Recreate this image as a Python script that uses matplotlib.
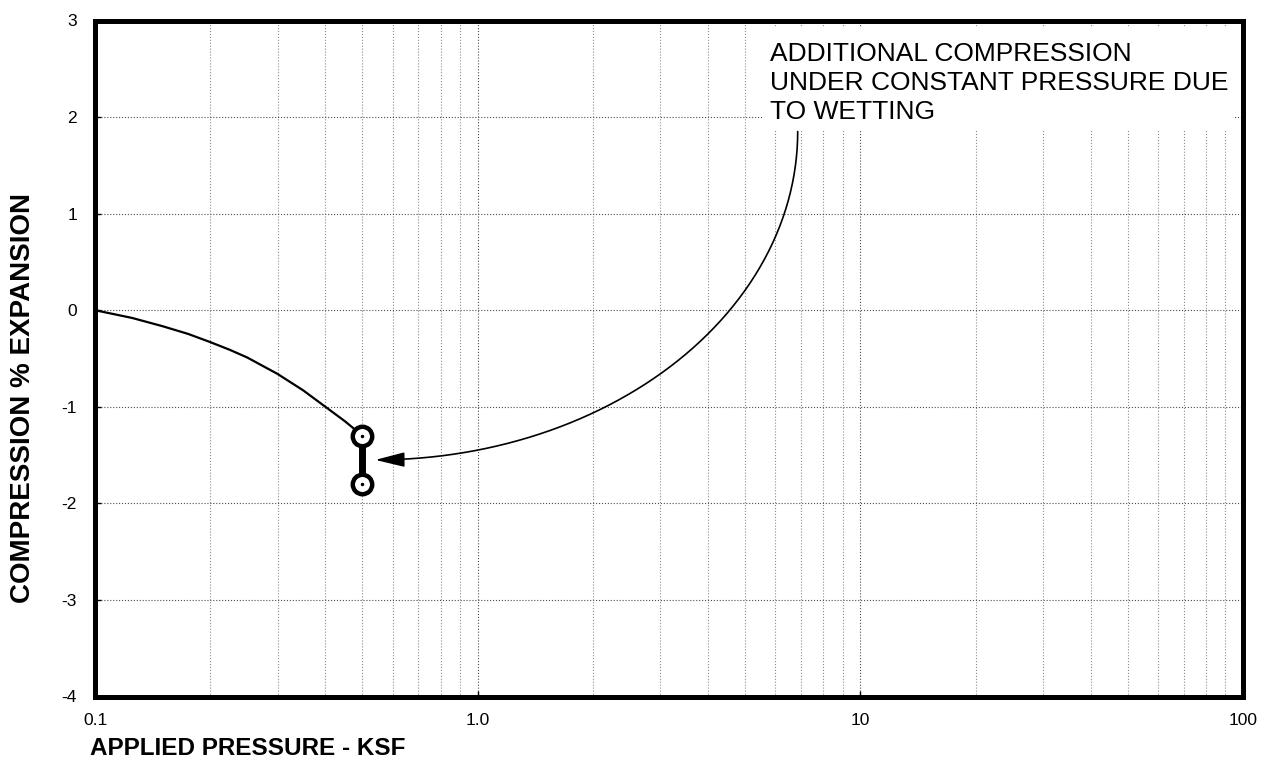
import numpy as np
import matplotlib
matplotlib.use("Agg")
import matplotlib.pyplot as plt
from matplotlib.patches import FancyArrowPatch, Rectangle
from matplotlib.path import Path
from matplotlib.ticker import FixedLocator, LogLocator, NullFormatter

plt.rcParams['font.family'] = ['Liberation Sans', 'DejaVu Sans']
plt.rcParams['axes.unicode_minus'] = False

# consolidation curve (dry) and the wetting step
pressure = [0.1, 0.125, 0.15, 0.175, 0.2, 0.225, 0.25, 0.3, 0.35, 0.4, 0.45, 0.5]
strain = [0.0, -0.08, -0.165, -0.245, -0.33, -0.41, -0.49, -0.66, -0.83, -1.0, -1.15, -1.3]
wet_pressure = [0.5, 0.5]
wet_strain = [-1.3, -1.8]

x_ticks = [0.1, 1.0, 10, 100]
x_ticklabels = ['0.1', '1.0', '10', '100']
y_ticks = [-4, -3, -2, -1, 0, 1, 2, 3]

note = "ADDITIONAL COMPRESSION\nUNDER CONSTANT PRESSURE DUE\nTO WETTING"
arrow_start = (6.86, 1.85)
arrow_end = (0.54, -1.55)

fig = plt.figure(figsize=(12.69, 7.61), dpi=100)
ax = fig.add_axes([95/1269, 1-696.5/761, 1148/1269, 676/761])

ax.set_xscale('log')
ax.set_xlim(0.1, 100)
ax.set_ylim(-4, 3)

ax.xaxis.set_major_locator(FixedLocator(x_ticks))
ax.set_xticklabels(x_ticklabels)
ax.xaxis.set_minor_locator(LogLocator(base=10, subs=np.arange(2, 10)))
ax.xaxis.set_minor_formatter(NullFormatter())
ax.set_yticks(y_ticks)

ax.grid(True, which='major', color='0.3', ls=':', lw=0.8)
ax.grid(True, which='minor', axis='x', color='0.55', ls=':', lw=0.8)
ax.tick_params(axis='both', which='major', direction='in', length=4, width=1,
               labelsize=12.5)
ax.tick_params(axis='y', pad=13)
ax.tick_params(axis='x', pad=12)
ax.tick_params(which='minor', length=0)

for s in ax.spines.values():
    s.set_linewidth(3.6)

ax.plot(pressure, strain, color='black', lw=1.6, zorder=3)
ax.plot(wet_pressure, wet_strain, color='black', lw=5, zorder=3)
ax.plot(wet_pressure, wet_strain, 'o', ms=14, mfc='white', mec='black', mew=3.2, zorder=4)
ax.plot(wet_pressure, wet_strain, '.', ms=3, color='black', zorder=5)

# white panel behind the note hides the grid
ax.add_patch(Rectangle((0.582, 0.8365), 0.4094, 0.1524, transform=ax.transAxes,
                       fc='white', ec='none', zorder=2))
ax.text(0.588, 0.968, note, transform=ax.transAxes, ha='left', va='top',
        fontsize=19, linespacing=1.27, zorder=6)

# elliptical arc from the note down to the wetting step
th = np.linspace(0, np.pi/2, 60)
lx0, lx1 = np.log10(arrow_start[0]), np.log10(arrow_end[0])
arc_x = 10 ** (lx1 + (lx0 - lx1) * np.cos(th))
arc_y = arrow_start[1] - (arrow_start[1] - arrow_end[1]) * np.sin(th)
arrow = FancyArrowPatch(path=Path(np.column_stack([arc_x, arc_y])),
                        arrowstyle='-|>,head_length=1.2,head_width=0.3',
                        mutation_scale=15, color='black', lw=1.2,
                        transform=ax.transData, zorder=5)
ax.add_patch(arrow)

fig.text(23/1269, 1-398/761, 'COMPRESSION % EXPANSION', rotation=90,
         ha='center', va='center', fontsize=20, fontweight='bold')
fig.text(90/1269, 1-755/761, 'APPLIED PRESSURE - KSF', ha='left', va='baseline',
         fontsize=17.5, fontweight='bold')

fig.savefig('out.png', dpi=100)
